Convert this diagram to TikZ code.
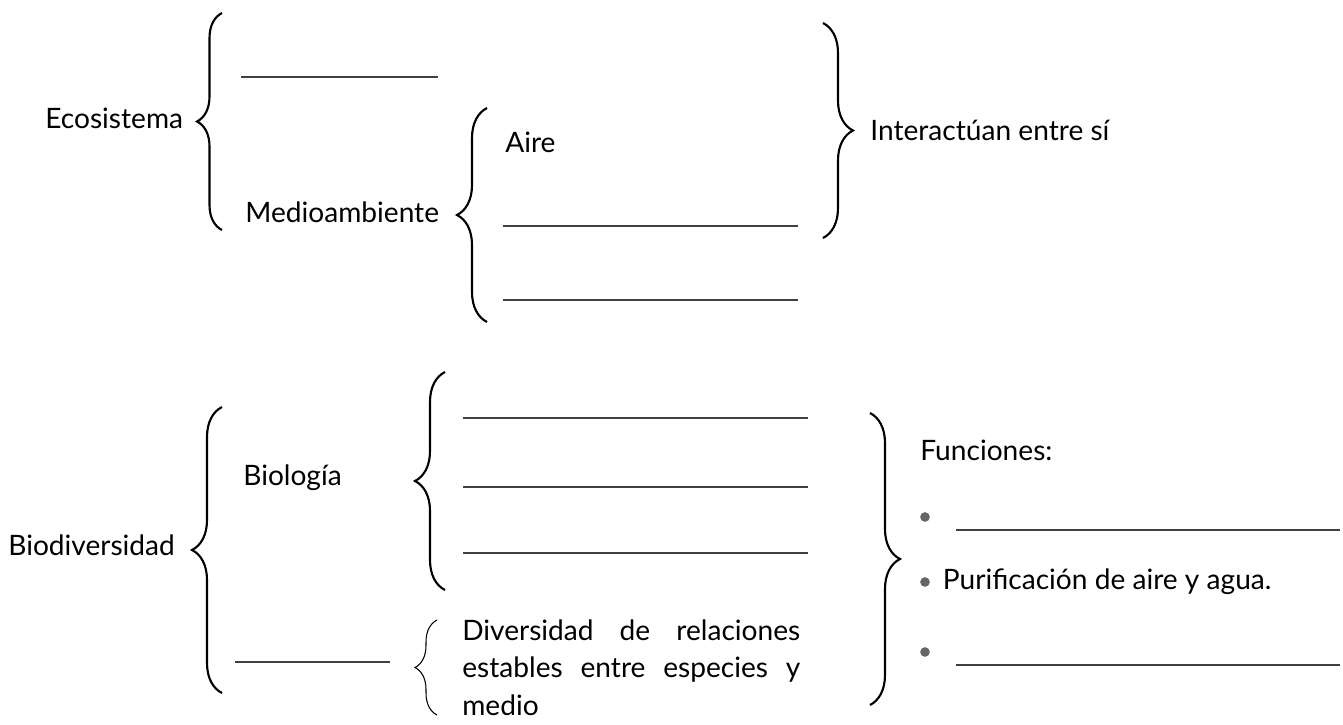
\documentclass[tikz,border=0pt]{standalone}
\usepackage{fontspec}
\setmainfont{Lato}
\usetikzlibrary{decorations.pathreplacing, positioning}

\begin{document}
\begin{tikzpicture}[x=0.02cm, y=-0.02cm]
 \tikzset{label style/.style={inner sep=0pt, anchor=west,
        font=\fontsize{16}{19}\selectfont}}
 \tikzset{brace style/.style={decorate, decoration={brace, amplitude=#1},
        line width=1.2pt}}
 \tikzset{brace style/.default=6mm}
 \tikzset{blank style/.style={line width=0.6pt, black!75}}
 \tikzset{dot style/.style={circle, fill=black!60, inner sep=0pt, minimum size=5.5pt}}
 \useasboundingbox (0,0) rectangle (1343,724);

 % Ecosistema
 \node[label style] (E) at (45,118) {Ecosistema};
 \draw[brace style=5mm] (222,230) -- (222,13);
 \draw[blank style] (241,77) -- (438,77);
 \node[label style] (M) at (245,212) {Medioambiente};
 \draw[brace style] (487,322) -- (487,108);
 \node[label style] (A) at (505,142) {Aire};
 \draw[blank style] (503,226) -- (798,226);
 \draw[blank style] (503,300) -- (798,300);
 \draw[brace style] (823,23) -- (823,238);
 \node[label style] (I) at (870,130) {Interactúan entre sí};

 % Biodiversidad
 \node[label style] (B) at (8,545) {Biodiversidad};
 \draw[brace style] (222,693) -- (222,407);
 \node[label style] (BL) at (243,478) {Biología};
 \draw[brace style] (445,590) -- (445,372);
 \draw[blank style] (463,418) -- (808,418);
 \draw[blank style] (463,487) -- (808,487);
 \draw[blank style] (463,553) -- (808,553);
 \draw[blank style] (235,662) -- (390,662);
 \draw[brace style=4.4mm, line width=0.6pt] (437,715) -- (437,620);
 \node[label style, anchor=north west, text width=6.76cm, align=left,
    font=\fontsize{16}{21.5}\selectfont] (D) at (462,619)
    {Diversidad\hfill de\hfill relaciones\\
     estables\hfill entre\hfill especies\hfill y\\
     medio};
 \draw[brace style] (870,413) -- (870,705);
 \node[label style] (F) at (920,450) {Funciones:};
 \node[dot style] (F1) at (925,517) {};
 \node[dot style] (F2) at (925,582) {};
 \node[dot style] (F3) at (925,652) {};
 \draw[blank style] (956,530) -- (1340,530);
 \node[label style, right=7pt of F2] (P) {Purificación de aire y agua.};
 \draw[blank style] (956,665) -- (1340,665);
\end{tikzpicture}
\end{document}
